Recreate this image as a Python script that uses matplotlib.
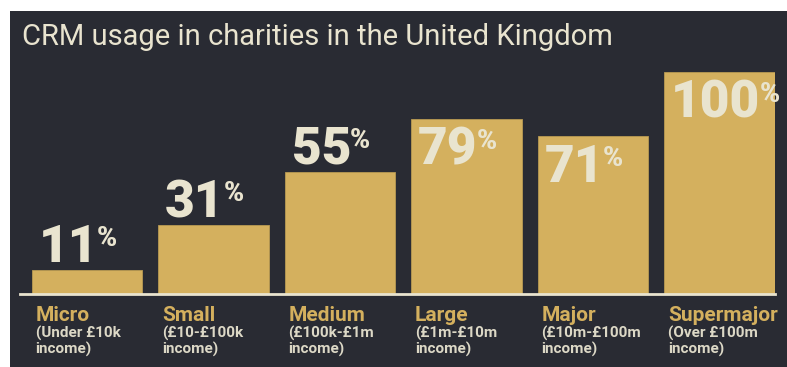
import matplotlib
matplotlib.use("Agg")
import matplotlib.pyplot as plt
from matplotlib.patches import Rectangle
from matplotlib.transforms import IdentityTransform

# Data
categories = ["Micro", "Small", "Medium", "Large", "Major", "Supermajor"]
income_bands = ["(Under £10k\nincome)", "(£10-£100k\nincome)", "(£100k-£1m\nincome)",
                "(£1m-£10m\nincome)", "(£10m-£100m\nincome)", "(Over £100m\nincome)"]
crm_usage = [11, 31, 55, 79, 71, 100]
title = "CRM usage in charities in the United Kingdom"

# Style
BG = "#292b33"
GOLD = "#d4b05e"
CREAM = "#e9e4cf"
SUB = "#dcd8c6"

W, H = 787, 367
fig = plt.figure(figsize=(W / 100, H / 100), dpi=100)
fig.patch.set_facecolor("white")

# dark panel
fig.add_artist(Rectangle((10 / W, 0), 1 - 10 / W, (H - 11) / H,
                         transform=fig.transFigure, facecolor=BG, edgecolor="none", zorder=0))

fig.text(22 / W, 1 - 45 / H, title, color=CREAM, fontsize=21, family="Roboto",
         ha="left", va="baseline")

# axes: baseline at y=294 px, 2.22 px per percent
ax_left, ax_right, ax_base, ax_top = 20, 775, 294, 11
ax = fig.add_axes([ax_left / W, (H - ax_base) / H, (ax_right - ax_left) / W,
                   (ax_base - ax_top) / H])
ax.set_facecolor("none")
step = 126.5
xs = list(range(len(categories)))
ax.set_xlim((ax_left - 87) / step, (ax_right - 87) / step)
ax.set_ylim(0, (ax_base - ax_top) / 2.22)
bar_w = 0.877
ax.bar(xs, crm_usage, width=bar_w, color=GOLD, edgecolor="#b89a52", linewidth=0.6, zorder=2)

for side in ["top", "right", "left"]:
    ax.spines[side].set_visible(False)
ax.spines["bottom"].set_color(CREAM)
ax.spines["bottom"].set_linewidth(2)
ax.set_xticks([])
ax.set_yticks([])

# value labels
digit_texts = []
for x, v in zip(xs, crm_usage):
    left = x - bar_w / 2
    inside = v > 60
    dy = -46 if inside else 8
    t = ax.annotate(str(v), xy=(left, v), xytext=(7, dy), textcoords="offset pixels",
                    ha="left", va="baseline", color=CREAM, fontsize=37,
                    family="Roboto", fontweight=900, zorder=3)
    digit_texts.append((t, v, dy))

# category labels below the baseline
for x, name, band in zip(xs, categories, income_bands):
    left = x - bar_w / 2
    ax.annotate(name, xy=(left, 0), xytext=(4, -27), textcoords="offset pixels",
                ha="left", va="baseline", color=GOLD, fontsize=15,
                family="Roboto", fontweight="bold", annotation_clip=False)
    ax.annotate(band, xy=(left, 0), xytext=(4, -60), textcoords="offset pixels",
                ha="left", va="baseline", color=SUB, fontsize=11,
                family="Roboto", fontweight="bold", linespacing=1.08,
                annotation_clip=False)

# percent signs next to the digits
fig.canvas.draw()
renderer = fig.canvas.get_renderer()
for t, v, dy in digit_texts:
    bb = t.get_window_extent(renderer)
    _, base_y = ax.transData.transform((0, v))
    base_y += dy
    fig.text(bb.x1 - 1, base_y + 16, "%", transform=IdentityTransform(),
             ha="left", va="baseline", color=CREAM, fontsize=19.5,
             family="Roboto", fontweight=900, zorder=4)

fig.savefig("out.png", dpi=100, facecolor=fig.get_facecolor())
